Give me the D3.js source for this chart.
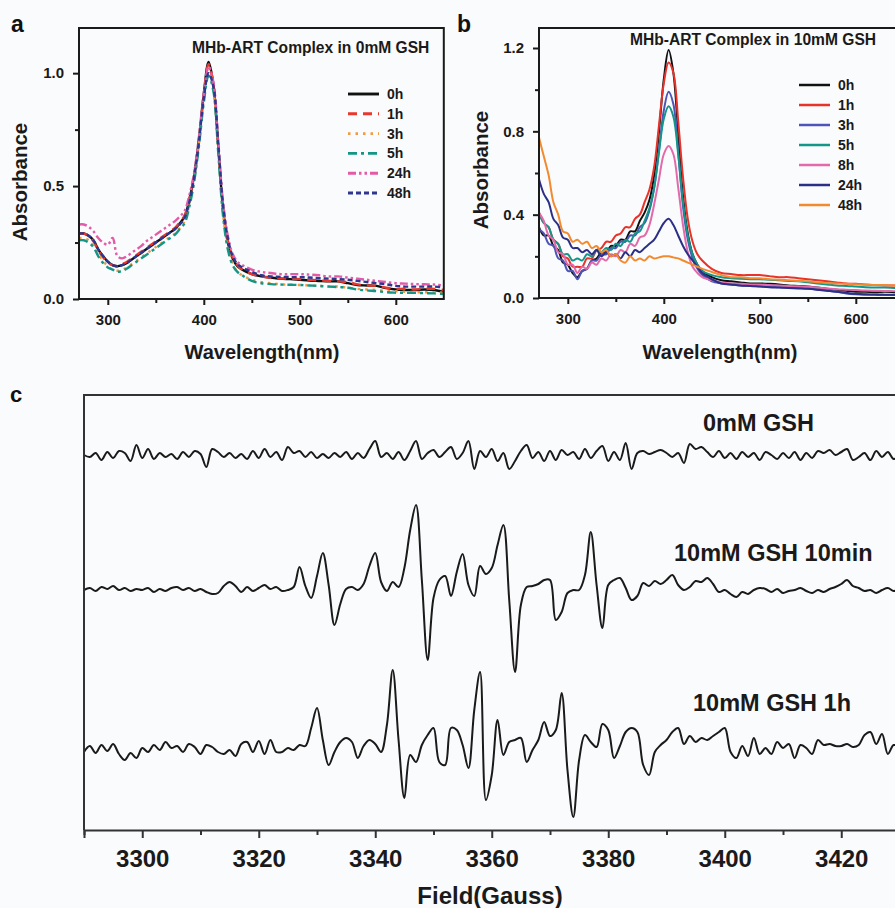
<!DOCTYPE html>
<html><head><meta charset="utf-8">
<script src="https://cdn.jsdelivr.net/npm/d3@7/dist/d3.min.js"></script>
<style>
body{margin:0;background:#fafbfc;}
svg{display:block;font-family:"Liberation Sans",Arial,sans-serif;font-weight:bold;}
</style>
</head><body>
<svg id="fig" width="895" height="908"></svg>
<script>
// ---------------- DATA ----------------
const wavelengths = [270,275,280,285,290,295,300,305,310,315,320,325,330,335,340,345,350,355,360,365,370,375,380,385,390,395,400,405,410,415,420,425,430,435,440,
  450,460,470,480,490,500,510,520,530,540,550,560,570,580,590,600,610,620,630,640,650];

// Panel a: MHb-ART complex in 0mM GSH
const labelsA = ["0h","1h","3h","5h","24h","48h"];
const a_0h  = [.29,.29,.28,.26,.22,.19,.165,.15,.145,.15, .16,.175,.19,.205,.22,.235,.25,.265,.28,.295, .31,.335,.365,.44,.55,.71,.91,1.05,.95,.68, .40,.25,.18,.145,.13,
  .11,.10,.095,.09,.088,.085,.082,.08,.078,.078, .07,.062,.06,.058,.048,.042,.04,.04,.042,.04,.032];
const a_1h  = [.29,.29,.28,.255,.215,.185,.16,.15,.145,.155, .165,.18,.195,.21,.225,.24,.255,.27,.285,.30, .315,.34,.37,.445,.55,.71,.90,1.04,.95,.68, .41,.26,.185,.15,.13,
  .11,.10,.095,.092,.09,.088,.085,.082,.08,.078, .075,.065,.06,.058,.05,.045,.045,.042,.045,.045,.04];
const a_3h  = [.27,.27,.26,.24,.20,.17,.145,.13,.125,.13, .14,.155,.17,.185,.20,.215,.23,.245,.26,.275, .29,.315,.345,.42,.53,.69,.89,1.02,.93,.66, .38,.23,.16,.12,.105,
  .085,.075,.07,.065,.063,.062,.06,.058,.056,.055, .05,.045,.042,.04,.036,.034,.032,.03,.03,.03,.028];
const a_5h  = [.26,.26,.25,.23,.19,.16,.14,.13,.12,.125, .135,.15,.165,.18,.195,.21,.225,.24,.255,.27, .285,.31,.335,.41,.52,.68,.87,.99,.92,.65, .37,.22,.15,.12,.105,
  .08,.07,.066,.064,.063,.062,.06,.058,.055,.053, .05,.042,.038,.035,.03,.028,.027,.027,.026,.025,.022];
const a_24h = [.33,.33,.32,.30,.27,.25,.24,.27,.19,.18, .19,.205,.22,.235,.255,.27,.285,.30,.315,.33, .345,.365,.39,.46,.56,.72,.91,1.03,.96,.70, .43,.28,.20,.165,.15,
  .13,.12,.115,.11,.11,.11,.108,.105,.10,.10, .095,.09,.085,.08,.075,.07,.068,.066,.065,.064,.06];
const a_48h = [.29,.29,.28,.26,.22,.19,.165,.15,.145,.15, .16,.175,.19,.205,.22,.235,.25,.265,.28,.295, .31,.33,.36,.43,.54,.70,.89,1.00,.94,.69, .42,.27,.19,.155,.14,
  .12,.105,.10,.098,.097,.097,.095,.092,.09,.088, .085,.08,.075,.07,.065,.058,.055,.055,.055,.055,.052];
const yTicksA = [0, 0.5, 1.0];

// Panel b: MHb-ART complex in 10mM GSH
const labelsB = ["0h","1h","3h","5h","8h","24h","48h"];
const b_0h  = [.34,.30,.30,.25,.23,.17,.16,.12,.10,.13, .14,.18,.19,.22,.22,.25,.25,.28,.28,.32, .32,.37,.41,.47,.59,.80,1.05,1.19,1.08,.79, .49,.31,.21,.16,.13,
  .10,.085,.08,.075,.07,.07,.068,.065,.06,.058, .055,.05,.045,.04,.035,.03,.03,.028,.03,.028,.025];
const b_1h  = [.41,.36,.34,.28,.26,.20,.19,.15,.15,.15, .19,.19,.23,.24,.27,.27,.30,.31,.34,.34, .38,.40,.46,.52,.63,.83,1.03,1.13,1.08,.85, .58,.38,.27,.21,.18,
  .14,.12,.115,.11,.11,.11,.105,.10,.10,.095, .09,.085,.08,.075,.07,.068,.065,.062,.06,.06,.058];
const b_3h  = [.33,.31,.26,.25,.19,.18,.13,.13,.09,.13, .14,.18,.18,.21,.21,.24,.24,.27,.27,.30, .30,.34,.36,.42,.53,.71,.90,.99,.93,.70, .44,.28,.19,.14,.11,
  .08,.07,.065,.06,.058,.056,.055,.052,.05,.048, .045,.04,.035,.03,.022,.018,.016,.015,.015,.014,.012];
const b_5h  = [.41,.36,.34,.28,.26,.21,.21,.18,.19,.18, .21,.20,.23,.22,.24,.23,.26,.25,.28,.27, .31,.32,.37,.43,.53,.70,.86,.92,.87,.69, .46,.30,.21,.16,.13,
  .11,.10,.095,.092,.09,.09,.088,.085,.082,.08, .075,.07,.065,.06,.058,.055,.052,.05,.05,.048,.046];
const b_8h  = [.41,.37,.30,.28,.22,.21,.16,.16,.12,.15, .14,.17,.16,.19,.18,.21,.20,.23,.22,.26, .25,.29,.30,.35,.45,.57,.69,.73,.69,.53, .35,.22,.15,.12,.10,
  .085,.075,.07,.068,.065,.065,.062,.06,.058,.056, .054,.05,.046,.042,.04,.038,.036,.035,.034,.033,.032];
const b_24h = [.57,.50,.46,.38,.35,.29,.28,.24,.24,.22, .23,.21,.23,.20,.22,.20,.21,.19,.22,.20, .23,.22,.24,.26,.28,.32,.36,.38,.35,.30, .25,.21,.18,.15,.12,
  .09,.07,.065,.06,.058,.055,.052,.05,.048,.046, .044,.04,.035,.03,.025,.02,.018,.017,.016,.016,.015];
const b_48h = [.77,.68,.59,.46,.40,.32,.31,.27,.28,.26, .27,.24,.25,.22,.23,.20,.21,.18,.17,.20, .18,.19,.18,.20,.19,.195,.20,.20,.195,.19, .18,.17,.16,.15,.14,
  .125,.11,.10,.10,.095,.095,.09,.088,.085,.082, .08,.075,.072,.07,.068,.066,.064,.062,.062,.06,.06];
const yTicksB = [0, 0.4, 0.8, 1.2];

const xTicksAB = [300, 400, 500, 600];

// Panel c: EPR spectra (field sweep 3290-3430 G, 1 G step)
const eprStart = 3290, eprEnd = 3430;
const eprLabels = ["0mM GSH", "10mM GSH 10min", "10mM GSH 1h"];
const eprOffsets = [375, 240, 80];
const epr_0mM = [0,-2,2,-5,3,-3,4,2,-6,10, -3,6,-4,2,-2,1,-4,3,-2,4, 1,-12,6,3,-2,2,-3,1,-4,4, -3,6,-2,3,-5,8,2,4,-2,3,
  -3,1,-3,2,-2,3,-4,2,-3,6, 14,-2,2,-4,3,-5,4,14,-4,2, 5,-2,3,8,-4,2,14,-14,4,-2, 6,-6,2,-14,-6,4,10,-3,3,-6,
  4,-5,5,0,3,-4,6,-3,4,9, -6,3,-5,12,-14,2,4,1,3,5, 2,-2,2,-8,11,6,8,3,-2,4, -3,2,-4,3,-2,2,-5,3,0,-4,
  2,-3,3,-5,2,-3,4,2,5,0, 3,6,-5,-2,2,-5,4,-2,3,-4, 1];
const epr_10min = [0,2,-1,3,1,4,0,2,-1,1, 0,2,-2,1,-1,2,3,0,2,-1, 1,-2,-4,-3,4,8,4,-2,3,-1, 2,5,1,3,-1,0,3,23,4,-8,
  14,37,5,-35,-14,1,3,0,6,24, 37,8,-1,8,3,22,60,85,10,-70, -8,10,14,-6,18,36,5,-6,24,16, 22,45,65,-10,-82,-15,3,4,6,10,
  10,-30,-22,-3,0,0,15,58,5,-38, 5,10,12,2,-10,-6,7,4,9,6, 10,15,5,0,3,9,8,12,6,-2, 0,-4,-7,-2,-4,0,2,1,-2,1,
  -3,-1,0,2,-1,-3,0,-2,1,3, 6,10,4,2,-1,0,-3,0,2,-1, 1];
const epr_1h = [-2,4,-3,5,-1,6,-4,-10,-3,-8, 2,-2,5,0,8,2,4,-2,6,3, -4,5,3,-2,-4,0,-6,6,8,-2, 9,-4,10,-2,-2,2,0,5,4,22,
  42,10,-15,-2,8,12,8,-8,4,10, 6,-2,25,80,10,-48,-5,-12,5,15, 22,-12,-15,22,20,5,-18,40,78,-50, -25,30,-5,8,10,12,-12,0,10,28,
  14,20,57,-20,-67,-10,15,8,3,26, 20,-8,4,18,22,18,-15,-25,-2,5, 10,18,22,6,14,8,12,10,14,18, 22,-2,-8,4,-6,12,-4,2,-4,8,
  2,6,-8,5,2,-4,10,5,6,4, 4,6,3,5,15,18,6,16,-4,5, 2];
const xTicksC = [3300,3320,3340,3360,3380,3400,3420];
const xMinorC = [3290,3310,3330,3350,3370,3390,3410,3430];

// ---------------- DRAW ----------------
const svg = d3.select("#fig");
const FONT = '"Liberation Sans", Arial, sans-serif';

function styleAxis(g, fs) {
  g.attr("font-family", FONT).attr("font-size", fs).attr("font-weight", "bold");
  g.selectAll(".domain").remove();
  g.selectAll(".tick line").attr("stroke", "#1a1a1a").attr("stroke-width", 2);
  g.selectAll(".tick text").attr("fill", "#1a1a1a");
}

function spectraPanel(opts) {
  const {left, top, bottom, yMax, yTicks, yMinor, series, letter, letterX, title, titleX, titleY,
         legX, legY, legStep, titleLabelX, absX, absY, clipId, lw} = opts;
  const x = d3.scaleLinear().domain([270, 650]).range([left, left + (650-270)*0.96]);
  const y = d3.scaleLinear().domain([0, yMax]).range([bottom, top]);
  svg.append("clipPath").attr("id", clipId).append("rect")
    .attr("x", left).attr("y", top).attr("width", x(650)-left).attr("height", bottom-top);
  const line = d3.line().x((d,i)=>x(wavelengths[i])).y(d=>y(d)).curve(d3.curveCatmullRom.alpha(0.5));
  const gl = svg.append("g").attr("clip-path", `url(#${clipId})`);
  series.forEach(s => {
    gl.append("path").datum(s.values).attr("d", line).attr("fill","none")
      .attr("stroke", s.color).attr("stroke-width", lw).attr("stroke-linejoin","round")
      .attr("stroke-dasharray", s.dash || null);
  });
  // frame
  svg.append("path").attr("d", `M${left},${bottom}V${top}H${x(650)}V${bottom}Z`)
    .attr("fill","none").attr("stroke","#1a1a1a").attr("stroke-width",2);
  // axes
  const gx = svg.append("g").attr("transform", `translate(0,${bottom})`)
    .call(d3.axisBottom(x).tickValues(xTicksAB).tickSize(6).tickPadding(9).tickFormat(d3.format("d")));
  styleAxis(gx, 15);
  const gxm = svg.append("g").attr("transform", `translate(0,${bottom})`)
    .call(d3.axisBottom(x).tickValues([350,450,550]).tickSize(4).tickFormat(""));
  styleAxis(gxm, 15);
  const gy = svg.append("g").attr("transform", `translate(${left},0)`)
    .call(d3.axisLeft(y).tickValues(yTicks).tickSize(6).tickPadding(9).tickFormat(d3.format(".1f")));
  styleAxis(gy, 15);
  const gym = svg.append("g").attr("transform", `translate(${left},0)`)
    .call(d3.axisLeft(y).tickValues(yMinor).tickSize(4).tickFormat(""));
  styleAxis(gym, 15);
  // titles
  svg.append("text").attr("x", titleX).attr("y", titleY).attr("font-size", 15.6).attr("fill","#1a1a1a").text(title);
  svg.append("text").attr("x", letterX).attr("y", 32).attr("font-size", 23).attr("fill","#111").text(letter);
  svg.append("text").attr("x", titleLabelX).attr("y", 359)
    .attr("text-anchor","middle").attr("font-size", 20).attr("fill","#1a1a1a").text("Wavelength(nm)");
  svg.append("text").attr("transform", `translate(${absX},${absY}) rotate(-90)`)
    .attr("text-anchor","middle").attr("font-size", 20.5).attr("fill","#1a1a1a").text("Absorbance");
  // legend
  series.forEach((s,i) => {
    const ly = legY + i*legStep;
    svg.append("line").attr("x1", legX).attr("x2", legX+31).attr("y1", ly).attr("y2", ly)
      .attr("stroke", s.color).attr("stroke-width", lw+0.5).attr("stroke-dasharray", s.dash || null);
    svg.append("text").attr("x", legX+39).attr("y", ly+5).attr("font-size", 14).attr("fill","#1a1a1a").text(s.label);
  });
}

spectraPanel({
  left: 79, top: 28, bottom: 299, yMax: 1.2, yTicks: yTicksA, yMinor: [0.25, 0.75],
  letter: "a", letterX: 11, title: "MHb-ART Complex in 0mM GSH", titleX: 192, titleY: 53,
  legX: 348, legY: 94, legStep: 19.8, titleLabelX: 262, absX: 27, absY: 182, clipId: "clipA", lw: 2.4,
  series: [
    {label: labelsA[0], values: a_0h,  color: "#111111"},
    {label: labelsA[1], values: a_1h,  color: "#e8372c", dash: "9,6"},
    {label: labelsA[2], values: a_3h,  color: "#f39a3c", dash: "2.5,5"},
    {label: labelsA[3], values: a_5h,  color: "#159586", dash: "9,4,3,4"},
    {label: labelsA[4], values: a_24h, color: "#e35aa6", dash: "8,3,2.5,3,2.5,3"},
    {label: labelsA[5], values: a_48h, color: "#2d3790", dash: "5,3"}
  ]
});

spectraPanel({
  left: 539, top: 28, bottom: 298, yMax: 1.296, yTicks: yTicksB, yMinor: [0.2, 0.6, 1.0],
  letter: "b", letterX: 457, title: "MHb-ART Complex in 10mM GSH", titleX: 630, titleY: 45,
  legX: 799, legY: 85, legStep: 20, titleLabelX: 720, absX: 488, absY: 170, clipId: "clipB", lw: 2,
  series: [
    {label: labelsB[0], values: b_0h,  color: "#111111"},
    {label: labelsB[1], values: b_1h,  color: "#e8332b"},
    {label: labelsB[2], values: b_3h,  color: "#4e55b6"},
    {label: labelsB[3], values: b_5h,  color: "#13958a"},
    {label: labelsB[4], values: b_8h,  color: "#e26aab"},
    {label: labelsB[5], values: b_24h, color: "#2b2f86"},
    {label: labelsB[6], values: b_48h, color: "#f28a2f"}
  ]
});

// ---- Panel c ----
(function(){
  const left = 84, top = 395, bottom = 830;
  const fields = d3.range(eprStart, eprEnd + 1, 1);
  const x = d3.scaleLinear().domain([eprStart, eprEnd]).range([left, left + (eprEnd-eprStart)*5.825]);
  const y = d3.scaleLinear().domain([0, bottom-top]).range([bottom, top]);
  const traces = [epr_0mM, epr_10min, epr_1h];
  traces.forEach((t, k) => {
    const line = d3.line().x((d,i)=>x(fields[i])).y(d=>y(d + eprOffsets[k])).curve(d3.curveCatmullRom.alpha(0.5));
    svg.append("path").datum(t).attr("d", line).attr("fill","none")
      .attr("stroke","#1a1a1a").attr("stroke-width",2).attr("stroke-linejoin","round");
  });
  svg.append("path").attr("d", `M${left},${bottom}V${top}H${x(eprEnd)}`)
    .attr("fill","none").attr("stroke","#333").attr("stroke-width",2);
  const gx = svg.append("g").attr("transform", `translate(0,${bottom})`)
    .call(d3.axisBottom(x).tickValues(xTicksC).tickSize(8).tickPadding(12).tickFormat(d3.format("d")));
  gx.select(".domain").attr("stroke","#333").attr("stroke-width",2);
  gx.attr("font-family", FONT).attr("font-size", 24).attr("font-weight","bold");
  gx.selectAll(".tick line").attr("stroke","#333").attr("stroke-width",2);
  gx.selectAll(".tick text").attr("fill","#1a1a1a");
  const gm = svg.append("g").attr("transform", `translate(0,${bottom})`)
    .call(d3.axisBottom(x).tickValues(xMinorC).tickSize(5).tickFormat(""));
  gm.select(".domain").remove();
  gm.selectAll(".tick line").attr("stroke","#333").attr("stroke-width",2);
  svg.append("text").attr("x", 490).attr("y", 904).attr("text-anchor","middle")
    .attr("font-size", 24).attr("fill","#1a1a1a").text("Field(Gauss)");
  svg.append("text").attr("x", 10).attr("y", 402).attr("font-size", 22).attr("fill","#111").text("c");
  const labelPos = [[703, 431], [674, 561], [693, 711]];
  eprLabels.forEach((s,k) => {
    svg.append("text").attr("x", labelPos[k][0]).attr("y", labelPos[k][1])
      .attr("font-size", 23.5).attr("fill","#1a1a1a").text(s);
  });
})();
</script>
</body></html>
